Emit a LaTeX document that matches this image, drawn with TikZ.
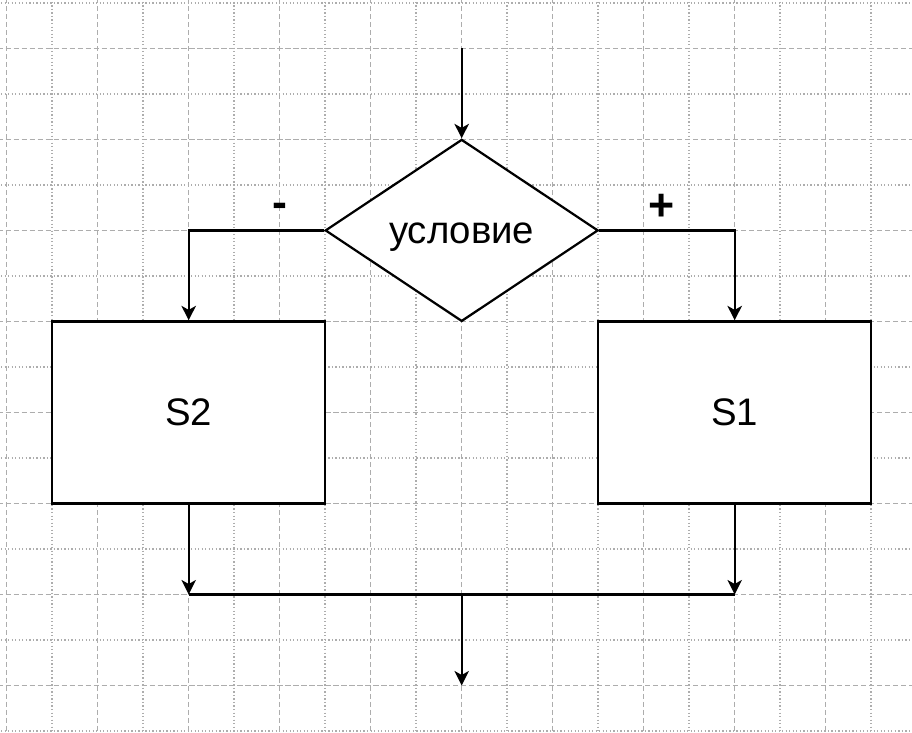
\documentclass[tikz,border=0pt]{standalone}
\usepackage{fontspec}
\setmainfont{Liberation Sans}
\usetikzlibrary{shapes.geometric,arrows.meta}
\begin{document}
\begin{tikzpicture}[x=1cm,y=-1cm,
  gridA/.style={draw=black!32, line width=0.9pt, dash pattern=on 3.2pt off 1.8pt},
  gridB/.style={draw=black!32, line width=0.9pt, dash pattern=on 0.8pt off 1.4pt},
  flow/.style={draw=black, line width=1.4pt},
  arr/.style={flow, -{Stealth[length=9pt,width=9pt,inset=2.5pt]}},
  block/.style={draw=black, line width=1.4pt, fill=white, minimum width=6cm, minimum height=4cm, inner sep=0pt, font=\fontsize{24}{28}\selectfont},
  cond/.style={draw=black, line width=1.4pt, fill=white, shape=diamond, aspect=1.5, minimum width=6cm, minimum height=4cm, inner sep=0pt, font=\fontsize{24}{28}\selectfont},
  sign/.style={font=\bfseries\fontsize{28}{32}\selectfont, inner sep=0pt}
]
\useasboundingbox[fill=white] (-0.147,-0.064) rectangle (19.897,16.04);
% grid
\foreach \k in {0,...,19}{
  \pgfmathparse{int(mod(\k,2))}
  \ifnum\pgfmathresult=0
    \draw[gridA] (\k,-0.1) -- (\k,16.1);
  \else
    \draw[gridB] (\k,-0.1) -- (\k,16.1);
  \fi
}
\foreach \k in {0,...,16}{
  \pgfmathparse{int(mod(\k,2))}
  \ifnum\pgfmathresult=1
    \draw[gridA] (-0.2,\k) -- (20,\k);
  \else
    \draw[gridB] (-0.2,\k) -- (20,\k);
  \fi
}
% nodes
\node[cond] (c) at (10,5) {\raisebox{-8pt}[0pt][0pt]{условие}};
\node[block] (s2) at (4,9) {S2};
\node[block] (s1) at (16,9) {S1};
\coordinate (top) at (10,1);
\coordinate (jl) at (4,13);
\coordinate (jr) at (16,13);
\coordinate (jm) at (10,13);
\coordinate (end) at (10,15);
% connectors
\draw[arr] (top) -- (c.north);
\draw[arr] (c.west) -| (s2.north);
\draw[arr] (c.east) -| (s1.north);
\draw[arr] (s2.south) -- (jl);
\draw[arr] (s1.south) -- (jr);
\draw[flow] (jl) -- (jr);
\draw[arr] (jm) -- (end);
\node[sign] (minus) at (6.0,4.55) {-};
\node[sign] (plus) at (14.4,4.5) {+};
\end{tikzpicture}
\end{document}
